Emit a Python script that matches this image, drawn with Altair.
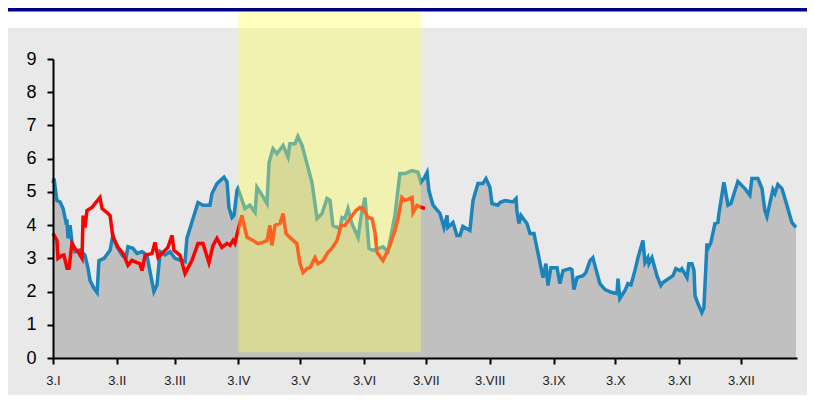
import altair as alt
import pandas as pd

# ---- data (x = days since 3 January, y = value) ----
tick_days = [0, 31, 59, 90, 120, 151, 181, 212, 243, 273, 304, 334]
tick_labels = ["3.I", "3.II", "3.III", "3.IV", "3.V", "3.VI", "3.VII",
               "3.VIII", "3.IX", "3.X", "3.XI", "3.XII"]
y_ticks = [0, 1, 2, 3, 4, 5, 6, 7, 8, 9]

blue_day = [0, 0.5, 1.9, 3.4, 4.9, 6.3, 6.8, 7.3, 8.3, 9.2, 10.7, 13.1, 15.5, 17.0,
            18.0, 19.9, 21.4, 22.3, 24.8, 27.7, 29.1, 31.1, 33.5, 35.4, 36.4, 38.8,
            40.8, 43.2, 45.6, 47.1, 49.0, 50.5, 52.0, 54.4, 56.8, 59.2, 61.7, 64.1,
            65.0, 67.5, 70.4, 72.8, 76.2, 77.2, 79.6, 83.0, 84.5, 85.4, 86.9, 87.9,
            89.3, 89.8, 93.2, 95.6, 98.1, 99.0, 101.5, 103.9, 104.9, 106.8, 108.7,
            111.7, 114.1, 115.0, 117.5, 118.9, 120.9, 125.7, 128.2, 130.6, 133.0,
            134.5, 135.9, 139.3, 140.3, 141.7, 143.2, 145.1, 148.1, 150.0, 151.5,
            153.4, 155.3, 160.2, 162.6, 166.0, 168.4, 170.9, 174.3, 177.2, 178.6,
            180.1, 181.6, 182.5, 184.5, 187.9, 189.8, 191.3, 191.7, 194.2, 196.1,
            197.6, 199.0, 202.4, 203.9, 206.3, 208.7, 210.2, 212.1, 213.1, 216.0,
            217.0, 219.4, 223.3, 224.8, 225.2, 226.2, 227.2, 230.1, 231.6, 233.5,
            237.9, 239.3, 240.3, 241.7, 244.7, 246.1, 247.6, 251.0, 251.9, 252.9,
            254.4, 257.3, 258.7, 260.7, 262.1, 263.1, 265.5, 268.0, 271.4, 273.8,
            274.3, 275.2, 277.7, 279.1, 280.6, 282.5, 284.0, 286.4, 287.4, 288.8,
            289.3, 290.8, 293.2, 295.1, 296.1, 301.0, 302.4, 304.4, 305.3, 307.8,
            308.7, 310.2, 311.2, 311.7, 313.1, 315.0, 316.0, 317.5, 318.0, 319.4,
            321.4, 322.8, 323.3, 325.7, 327.7, 329.1, 332.5, 335.9, 338.3, 339.3,
            342.2, 344.2, 345.6, 346.6, 349.5, 350.5, 351.9, 353.9, 356.3, 358.7,
            360.7]
blue_val = [5.26, 5.4, 4.74, 4.7, 4.5, 4.08, 4.1, 3.6, 4.0, 3.5, 3.2, 3.25, 3.1, 2.7,
            2.33, 2.1, 1.97, 2.93, 3.0, 3.24, 3.7, 3.35, 3.1, 3.0, 3.35, 3.3,
            3.15, 3.2, 3.1, 2.6, 2.0, 2.2, 3.2, 3.1, 3.2, 3.0, 2.95, 2.9,
            3.6, 4.1, 4.68, 4.6, 4.6, 4.95, 5.25, 5.44, 5.3, 4.53, 4.23, 4.3,
            5.04, 5.1, 4.5, 4.6, 4.38, 5.14, 4.9, 4.65, 5.89, 6.3, 6.15,
            6.4, 6.05, 6.45, 6.45, 6.67, 6.4, 5.29, 4.2, 4.35, 4.8,
            4.74, 3.99, 3.9, 4.23, 4.2, 4.5, 4.05, 3.63, 4.44, 4.83,
            3.3, 3.24, 3.35, 3.2, 4.29, 5.55, 5.55, 5.64, 5.59, 5.29,
            5.4, 5.58, 5.04, 4.6, 4.35, 3.93, 4.29, 3.93, 4.08, 3.69,
            3.69, 3.96, 3.84, 4.74, 5.25, 5.25, 5.4, 5.14, 4.65, 4.6,
            4.68, 4.74, 4.7, 4.8, 4.44, 4.05, 4.29, 4.05, 3.75, 3.75,
            2.42, 2.84, 2.18, 2.72, 2.72, 2.24, 2.63, 2.69, 2.66, 2.06,
            2.42, 2.48, 2.57, 2.93, 3.02, 2.78, 2.24, 2.06, 1.97, 1.94,
            2.39, 1.79, 2.03, 2.24, 2.2, 2.63, 3.02, 3.54, 2.87, 3.02,
            2.84, 3.02, 2.48, 2.18, 2.27, 2.48, 2.69, 2.63, 2.69, 2.42,
            2.84, 2.84, 2.63, 1.88, 1.64, 1.37, 1.52, 3.45, 3.3, 3.48,
            4.05, 4.08, 4.35, 5.29, 4.6, 4.65, 5.31, 5.1, 4.9, 5.4,
            5.4, 5.1, 4.44, 4.26, 5.07, 4.95, 5.22, 5.1, 4.6, 4.08,
            3.93]

red_day = [0, 1.9, 2.4, 4.4, 5.3, 6.8, 7.8, 9.2, 10.7, 12.1, 14.1, 14.6, 15.5, 16.5,
           18.9, 20.4, 22.8, 23.8, 26.2, 27.7, 29.1, 31.6, 34.0, 36.4, 38.3, 40.8,
           42.2, 43.2, 44.7, 48.1, 49.5, 51.0, 53.4, 55.8, 57.8, 58.7, 61.7, 64.1,
           67.5, 70.4, 72.8, 75.7, 77.7, 79.6, 82.0, 84.5, 85.9, 87.4, 88.3, 89.8,
           91.7, 94.2, 97.1, 99.5, 101.9, 103.9, 105.3, 106.3, 107.8, 110.2, 111.7,
           113.1, 115.0, 118.4, 119.9, 121.4, 123.3, 124.8, 127.2, 128.6, 131.1,
           133.5, 135.4, 137.9, 139.8, 141.7, 144.2, 147.1, 149.0, 150.5, 152.9,
           154.9, 156.3, 157.3, 160.2, 162.1, 163.6, 166.0, 167.5, 169.4, 170.9,
           174.3, 174.8, 176.7, 179.1, 180.6]
red_val = [3.75, 3.54, 3.0, 3.09, 3.1, 2.7, 2.7, 3.45, 3.3, 3.2, 3.0, 4.29, 3.93, 4.44,
           4.53, 4.65, 4.83, 4.5, 4.38, 4.29, 3.63, 3.33, 3.15, 2.79, 2.94, 2.87,
           2.84, 2.63, 3.09, 3.15, 3.48, 3.02, 3.18, 3.33, 3.69, 3.24, 3.09, 2.54,
           2.94, 3.45, 3.45, 2.87, 3.39, 3.6, 3.33, 3.45, 3.39, 3.54, 3.45, 3.84,
           4.29, 3.63, 3.54, 3.44, 3.48, 3.54, 3.99, 3.39, 3.99, 4.05, 4.35,
           3.75, 3.63, 3.44, 2.84, 2.57, 2.69, 2.72, 3.02, 2.84, 2.93,
           3.18, 3.3, 3.54, 3.99, 3.99, 4.2, 4.44, 4.53, 4.5, 4.23,
           4.2, 3.78, 3.18, 2.93, 3.18, 3.39, 3.84, 4.2, 4.83, 4.74,
           4.83, 4.38, 4.59, 4.53, 4.5]

band_start = [90]
band_end = [178.6]
band_low = [0.17]
band_high = [10.7]

# ---- tables ----
blue_df = pd.DataFrame({"day": blue_day, "val": blue_val})
red_df = pd.DataFrame({"day": red_day, "val": red_val})
band_df = pd.DataFrame({"day": band_start, "x2": band_end, "val": band_low, "y2": band_high})
dummy = pd.DataFrame({"a": [0]})

FONT = "Liberation Sans"
W, H = 744, 299
PAD = {"left": 45, "top": 51, "right": 10, "bottom": 37}

x_scale = alt.Scale(domain=[0, 361.2], nice=False, zero=False)
y_scale = alt.Scale(domain=[0, 9], nice=False, zero=True)

label_expr = ("[" + ",".join(f"'{l}'" for l in tick_labels) + "][indexof(["
              + ",".join(str(d) for d in tick_days) + "], datum.value)]")

x_axis = alt.Axis(values=tick_days, labelExpr=label_expr, title=None, grid=False,
                  domainColor="black", domainWidth=2, tickColor="black", tickWidth=2,
                  tickSize=6, labelFont=FONT, labelFontSize=13, labelColor="#222222",
                  labelPadding=10, labelFlush=False, labelOverlap=False, zindex=1)
y_axis = alt.Axis(values=y_ticks, tickCount=10, title=None, grid=False,
                  domainColor="black", domainWidth=2, tickColor="black", tickWidth=2,
                  tickSize=6, labelFont=FONT, labelFontSize=18, labelColor="black",
                  labelPadding=11, labelOverlap=False, labelFlush=False,
                  labelBound=False, zindex=1)

X = alt.X("day:Q", scale=x_scale, axis=x_axis)
Y = alt.Y("val:Q", scale=y_scale, axis=y_axis)

top_white = alt.Chart(dummy).mark_rect(color="white", clip=False).encode(
    x=alt.value(-PAD["left"]), x2=alt.value(W + PAD["right"]),
    y=alt.value(-PAD["top"]), y2=alt.value(-PAD["top"] + 20))

area = alt.Chart(blue_df).mark_area(color="#c0c0c0").encode(x=X, y=Y)

blue_line = alt.Chart(blue_df).mark_line(color="#1b84bb", strokeWidth=3.5).encode(x=X, y=Y)

red_line = alt.Chart(red_df).mark_line(color="#ff0000", strokeWidth=3.5).encode(x=X, y=Y)

band = alt.Chart(band_df).mark_rect(color="#ffff55", opacity=0.38, clip=False).encode(
    x=X, x2="x2:Q", y=Y, y2="y2:Q")

navy = alt.Chart(dummy).mark_rect(color="#000080", clip=False).encode(
    x=alt.value(-PAD["left"]), x2=alt.value(W + PAD["right"]),
    y=alt.value(-PAD["top"]), y2=alt.value(-PAD["top"] + 3.5))

chart = alt.layer(top_white, area, blue_line, red_line, band, navy).properties(
    width=W, height=H,
    autosize=alt.AutoSizeParams(type="none"),
    padding=PAD,
    background="#e9e9e9",
).configure_view(stroke=None)

chart.save("out.html", embed_options={"renderer": "svg", "actions": False})
